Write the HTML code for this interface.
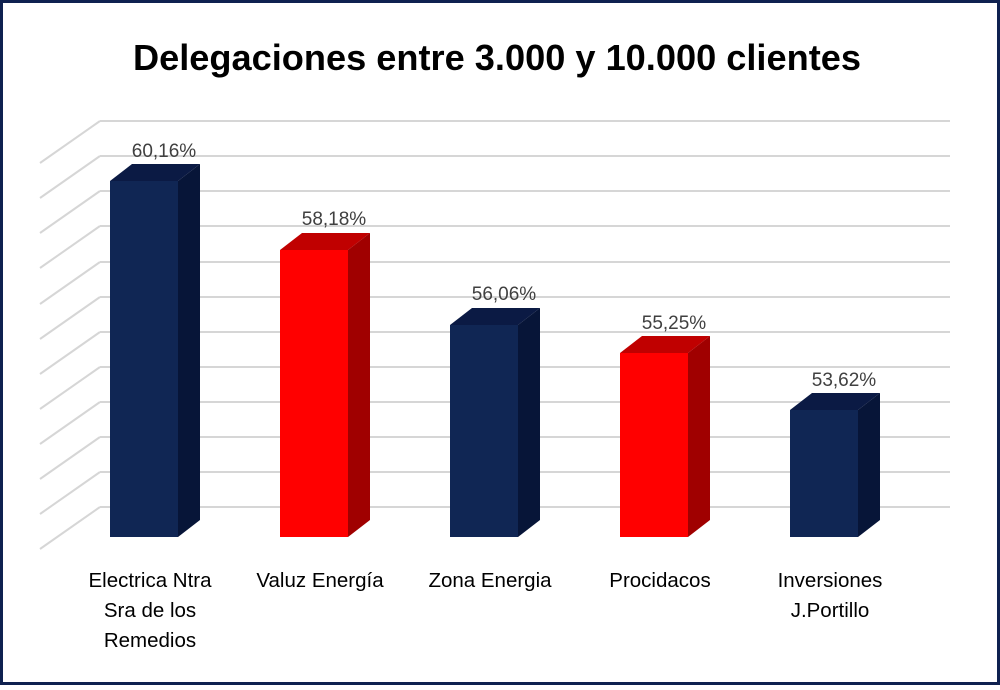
<!DOCTYPE html>
<html><head><meta charset="utf-8"><style>
html,body{margin:0;padding:0;background:#fff;}
</style></head><body>
<svg width="1000" height="685" viewBox="0 0 1000 685" xmlns="http://www.w3.org/2000/svg" font-family="Liberation Sans, sans-serif">
<rect x="1.5" y="1.5" width="997" height="682" fill="#fff" stroke="#0f2150" stroke-width="3"/>
<text x="497" y="70" text-anchor="middle" font-size="36" font-weight="900" fill="#000" textLength="728" lengthAdjust="spacingAndGlyphs" style="font-family:'Liberation Sans Narrow','Liberation Sans',sans-serif">Delegaciones entre  3.000 y 10.000 clientes</text>
<g stroke="#d6d6d6" stroke-width="2" fill="none">
<path d="M100 121H950M100 156H950M100 191H950M100 226H950M100 262H950M100 297H950M100 332H950M100 367H950M100 402H950M100 437H950M100 472H950M100 507H950"/>
<path d="M100 121L40 163M100 156L40 198M100 191L40 233M100 226L40 268M100 262L40 304M100 297L40 339M100 332L40 374M100 367L40 409M100 402L40 444M100 437L40 479M100 472L40 514M100 507L40 549"/>
</g>
<g>
<polygon points="110,181 178,181 200,164 132,164" fill="#0b1a44"/><polygon points="178,181 200,164 200,520 178,537" fill="#071538"/><rect x="110" y="181" width="68" height="356" fill="#102654"/>
<polygon points="280,250 348,250 370,233 302,233" fill="#c00000"/><polygon points="348,250 370,233 370,520 348,537" fill="#a00000"/><rect x="280" y="250" width="68" height="287" fill="#ff0000"/>
<polygon points="450,325 518,325 540,308 472,308" fill="#0b1a44"/><polygon points="518,325 540,308 540,520 518,537" fill="#071538"/><rect x="450" y="325" width="68" height="212" fill="#102654"/>
<polygon points="620,353 688,353 710,336 642,336" fill="#c00000"/><polygon points="688,353 710,336 710,520 688,537" fill="#a00000"/><rect x="620" y="353" width="68" height="184" fill="#ff0000"/>
<polygon points="790,410 858,410 880,393 812,393" fill="#0b1a44"/><polygon points="858,410 880,393 880,520 858,537" fill="#071538"/><rect x="790" y="410" width="68" height="127" fill="#102654"/>
</g>
<g font-size="19" fill="#404040" text-anchor="middle">
<text x="164" y="157">60,16%</text>
<text x="334" y="225">58,18%</text>
<text x="504" y="300">56,06%</text>
<text x="674" y="329">55,25%</text>
<text x="844" y="386">53,62%</text>
</g>
<g font-size="20.5" fill="#000" text-anchor="middle">
<text x="150" y="587">Electrica Ntra</text>
<text x="150" y="617">Sra de los</text>
<text x="150" y="647">Remedios</text>
<text x="320" y="587">Valuz Energía</text>
<text x="490" y="587">Zona Energia</text>
<text x="660" y="587">Procidacos</text>
<text x="830" y="587">Inversiones</text>
<text x="830" y="617">J.Portillo</text>
</g>
</svg>
</body></html>
